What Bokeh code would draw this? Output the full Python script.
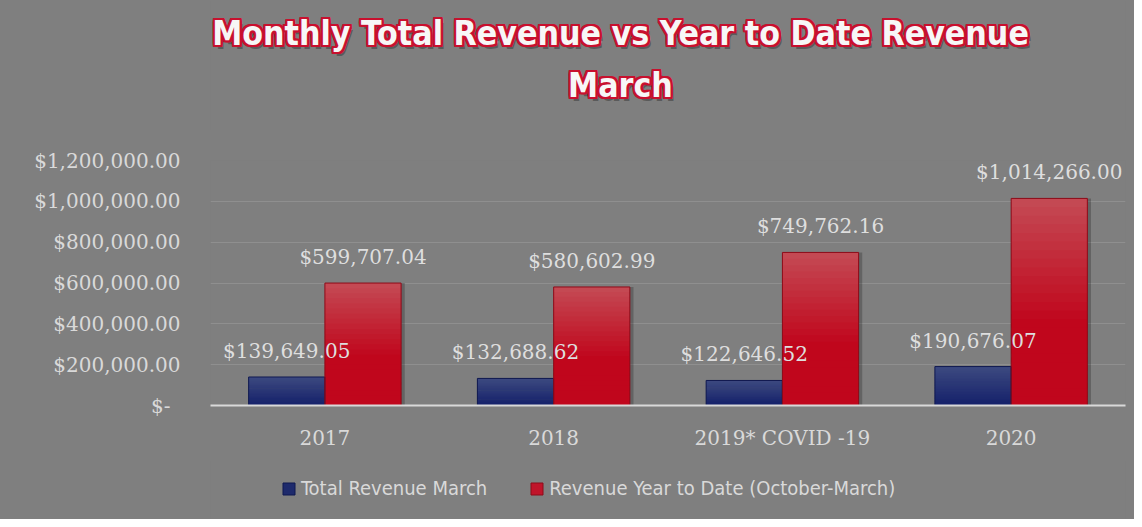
from bokeh.plotting import figure
from bokeh.models import ColumnDataSource, FactorRange, FixedTicker, NumeralTickFormatter, Legend, LegendItem, Range1d
from bokeh.layouts import column
from bokeh.core.properties import value
from bokeh.transform import dodge
from bokeh.embed import file_html
from bokeh.resources import INLINE

# ---- data ----
categories = ["2017", "2018", "2019* COVID -19", "2020"]
total_march = [139649.05, 132688.62, 122646.52, 190676.07]
ytd_revenue = [599707.04, 580602.99, 749762.16, 1014266.00]
series_names = ["Total Revenue March", "Revenue Year to Date (October-March)"]
y_ticks = [0, 200000, 400000, 600000, 800000, 1000000, 1200000]
title_lines = ["Monthly Total Revenue vs Year to Date Revenue", "March"]

BG = "#7f7f7f"
TXT = "#d9d9d9"
NUMFONT = "DejaVu Serif"
TFONT = "DejaVu Sans Condensed"
STY = {"background-color": BG}

def fmt(v):
    return "${:,.2f}".format(v)

def lerp(c1, c2, t):
    a = [int(c1[i:i + 2], 16) for i in (1, 3, 5)]
    b = [int(c2[i:i + 2], 16) for i in (1, 3, 5)]
    return "#%02x%02x%02x" % tuple(round(a[i] + (b[i] - a[i]) * t) for i in range(3))

def blank(fig):
    fig.axis.visible = False
    fig.grid.visible = False
    fig.outline_line_color = None
    fig.background_fill_color = None
    fig.border_fill_color = BG

W = 1134
H_T, H_M, H_L = 130, 330, 59
FL, FR = 210, 1125   # frame left/right (frames are aligned in the column)

# ---------------- title figure ----------------
tp = figure(width=W, height=H_T, x_range=Range1d(FL, FR), y_range=Range1d(0, H_T),
            output_backend="svg", toolbar_location=None, min_border=0, styles=STY)
blank(tp)
tsrc = ColumnDataSource(dict(x=[620, 620], y=[97, 45], t=title_lines))
common = dict(x="x", y="y", text="t", source=tsrc, text_font=value(TFONT), text_font_size="33.6px",
              text_font_style="bold", text_align="center", text_baseline="middle")
tp.text(x_offset=3, y_offset=4, text_color="#3a3a3a", text_alpha=0.55, **common)
for dx in (-2, -1, 0, 1, 2):
    for dy in (-2, -1, 0, 1, 2):
        if dx or dy:
            tp.text(x_offset=dx, y_offset=dy, text_color="#c8102e", **common)
tp.text(text_color="#f7f7f7", **common)

# ---------------- main figure ----------------
src = ColumnDataSource(dict(
    cat=categories, a=total_march, b=ytd_revenue,
    la=[fmt(v) for v in total_march], lb=[fmt(v) for v in ytd_revenue]))

p = figure(width=W, height=H_M, x_range=FactorRange(*categories), y_range=Range1d(0, 1200000),
           output_backend="svg", toolbar_location=None, styles=STY,
           min_border_left=FL, min_border_right=W - FR, min_border_top=30, min_border_bottom=55)
p.background_fill_color = None
p.border_fill_color = BG
p.outline_line_color = None

p.xgrid.grid_line_color = None
p.ygrid.grid_line_color = "#8f8f8f"
p.ygrid.grid_line_width = 1

# soft shadows to the right of each bar
p.vbar(x=dodge("cat", -0.1667 + 0.016, range=p.x_range), top="a", width=0.333, source=src,
       fill_color="#000000", fill_alpha=0.22, line_color=None)
p.vbar(x=dodge("cat", 0.1667 + 0.016, range=p.x_range), top="b", width=0.333, source=src,
       fill_color="#000000", fill_alpha=0.22, line_color=None)

# gradient bars: horizontal slices of each bar
N = 24
offs = {"a": -0.1667, "b": 0.1667}
def bar_colors(series, t):
    if series == "a":
        return lerp("#14206a", "#3d4a80", t)
    if t < 0.4:
        return "#c0061c"
    return lerp("#c0061c", "#c44b55", (t - 0.4) / 0.6)

for key, vals in (("a", total_march), ("b", ytd_revenue)):
    for k in range(N):
        t = (k + 0.5) / N
        s = ColumnDataSource(dict(cat=categories,
                                  bot=[v * k / N for v in vals],
                                  top=[v * (k + 1) / N + (v * 0.6 / N if k < N - 1 else 0) for v in vals]))
        p.vbar(x=dodge("cat", offs[key], range=p.x_range), bottom="bot", top="top", width=0.333,
               source=s, fill_color=bar_colors(key, t), line_color=None)

p.vbar(x=dodge("cat", -0.1667, range=p.x_range), top="a", width=0.333, source=src,
       fill_color=None, line_color="#0f1850", line_width=1)
p.vbar(x=dodge("cat", 0.1667, range=p.x_range), top="b", width=0.333, source=src,
       fill_color=None, line_color="#8e0a18", line_width=1)

lab = dict(source=src, text_font=value(NUMFONT), text_font_size="20px", text_color="#dedede",
           text_align="center", text_baseline="bottom", y_offset=-14)
p.text(x=dodge("cat", -0.1667, range=p.x_range), y="a", text="la", **lab)
p.text(x=dodge("cat", 0.1667, range=p.x_range), y="b", text="lb", **lab)

p.yaxis.ticker = FixedTicker(ticks=y_ticks)
p.yaxis.formatter = NumeralTickFormatter(format="$0,0.00")
p.yaxis.major_label_overrides = {0: "$-\u2002"}
p.yaxis.axis_line_color = None
p.yaxis.major_tick_line_color = None
p.yaxis.minor_tick_line_color = None
p.yaxis.major_tick_out = 0
p.yaxis.minor_tick_out = 0
p.yaxis.major_label_standoff = 30
p.yaxis.major_label_text_font = NUMFONT
p.yaxis.major_label_text_font_size = "20px"
p.yaxis.major_label_text_color = TXT

p.xaxis.axis_line_color = TXT
p.xaxis.axis_line_width = 2
p.xaxis.major_tick_line_color = None
p.xaxis.minor_tick_line_color = None
p.xaxis.major_tick_out = 0
p.xaxis.minor_tick_out = 0
p.xaxis.major_label_standoff = 20
p.xaxis.major_label_text_font = NUMFONT
p.xaxis.major_label_text_font_size = "20px"
p.xaxis.major_label_text_color = TXT

# ---------------- legend figure ----------------
lp = figure(width=W, height=H_L, x_range=Range1d(0, 1), y_range=Range1d(0, 1),
            output_backend="svg", toolbar_location=None, min_border=0, styles=STY)
blank(lp)
dummy = ColumnDataSource(dict(x=[-5.0], top=[-5.0]))
g1 = lp.vbar(x="x", top="top", width=0.1, source=dummy,
             fill_color="#1e2a6c", line_color="#0f1850")
g2 = lp.vbar(x="x", top="top", width=0.1, source=dummy,
             fill_color="#c0142a", line_color="#8e0a18")
legend = Legend(items=[LegendItem(label=series_names[0], renderers=[g1]),
                       LegendItem(label=series_names[1], renderers=[g2])],
                orientation="horizontal", location=(285 - FL - 4, 19),
                label_text_font=TFONT, label_text_font_size="20px",
                label_text_color=TXT, glyph_width=15, glyph_height=15, spacing=42,
                label_standoff=5, background_fill_alpha=0, border_line_color=None,
                margin=0, padding=4)
lp.add_layout(legend)

layout = column(tp, p, lp, spacing=0, styles=STY)
open("out.html", "w").write(file_html(layout, INLINE))
